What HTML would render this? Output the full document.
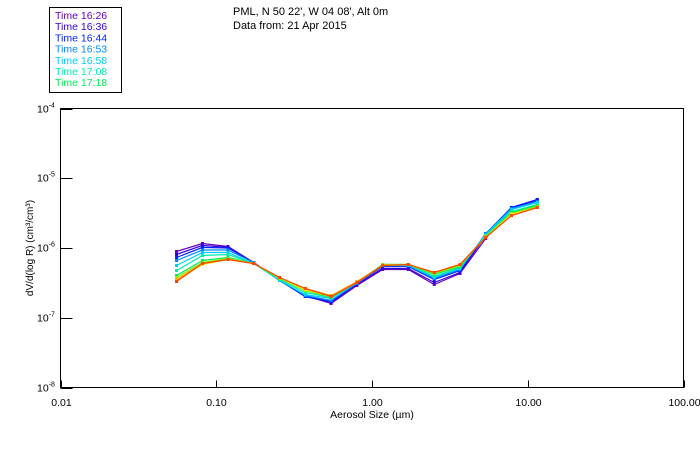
<!DOCTYPE html>
<html><head><meta charset="utf-8"><style>
body{margin:0;background:#fff;}
svg text{font-family:"Liberation Sans",sans-serif;}
</style></head><body>
<svg id="chart" width="700" height="450" xmlns="http://www.w3.org/2000/svg">
<rect x="0" y="0" width="700" height="450" fill="#fff"/>
<g>
<rect x="49.5" y="7.5" width="72" height="85" fill="none" stroke="#000" stroke-width="1"/>
<g id="legendItems"></g>
</g>
<text x="233" y="15" font-size="11">PML, N 50 22', W 04 08', Alt 0m</text>
<text x="233" y="29" font-size="11">Data from: 21 Apr 2015</text>
<g id="axes"></g>
<g id="series"></g>
<text x="372" y="418" font-size="10.5" text-anchor="middle">Aerosol Size (µm)</text>
<text transform="translate(33,248) rotate(-90)" font-size="10" text-anchor="middle">dV/d(log R) (cm³/cm³)</text>
</svg>
<script>
const sizes=[0.0556,0.0815,0.119,0.174,0.255,0.373,0.546,0.80,1.17,1.71,2.51,3.67,5.37,7.86,11.5];
const times=["16:26","16:36","16:44","16:53","16:58","17:08","17:18","17:28","17:38","17:48","17:58"];
const colors=["#6600bb","#3300dd","#0022ff","#0088ff","#00ccff","#00eeaa","#00ee55","#88ee00","#ffee00","#ffaa00","#ff4400"];
const s1=[8.92e-7,1.16e-6,1.05e-6,6.19e-7,3.42e-7,2.08e-7,1.60e-7,2.90e-7,4.92e-7,4.92e-7,3.00e-7,4.31e-7,1.37e-6,3.68e-6,4.80e-6];
const s2=[8.07e-7,1.09e-6,1.02e-6,6.19e-7,3.42e-7,2.02e-7,1.66e-7,3.00e-7,5.08e-7,5.08e-7,3.20e-7,4.45e-7,1.51e-6,3.81e-6,4.95e-6];
const s3=[7.31e-7,1.02e-6,1.00e-6,6.19e-7,3.42e-7,2.02e-7,1.71e-7,3.10e-7,5.43e-7,5.43e-7,3.53e-7,4.75e-7,1.61e-6,3.81e-6,4.95e-6];
const s4=[6.62e-7,9.36e-7,9.36e-7,6.19e-7,3.42e-7,2.08e-7,1.77e-7,3.10e-7,5.61e-7,5.61e-7,3.66e-7,4.92e-7,1.61e-6,3.68e-6,4.64e-6];
const s5=[5.61e-7,8.62e-7,8.62e-7,6.00e-7,3.42e-7,2.15e-7,1.89e-7,3.20e-7,5.61e-7,5.61e-7,3.78e-7,5.08e-7,1.56e-6,3.56e-6,4.49e-6];
const s6=[4.75e-7,7.80e-7,8.07e-7,6.00e-7,3.53e-7,2.30e-7,1.95e-7,3.20e-7,5.80e-7,5.80e-7,3.90e-7,5.25e-7,1.51e-6,3.34e-6,4.20e-6];
const s7=[4.03e-7,6.62e-7,7.31e-7,6.00e-7,3.66e-7,2.46e-7,1.95e-7,3.20e-7,5.80e-7,5.80e-7,4.17e-7,5.43e-7,1.46e-6,3.23e-6,4.07e-6];
const s8=[3.78e-7,6.19e-7,7.07e-7,6.00e-7,3.66e-7,2.46e-7,2.02e-7,3.20e-7,5.80e-7,5.80e-7,4.31e-7,5.61e-7,1.46e-6,3.12e-6,3.94e-6];
const s9=[3.42e-7,5.80e-7,6.84e-7,6.00e-7,3.78e-7,2.54e-7,2.02e-7,3.20e-7,5.61e-7,5.80e-7,4.45e-7,5.80e-7,1.42e-6,3.02e-6,3.81e-6];
const s10=[3.53e-7,6.00e-7,6.84e-7,6.00e-7,3.78e-7,2.63e-7,2.08e-7,3.31e-7,5.61e-7,5.80e-7,4.45e-7,5.80e-7,1.42e-6,2.92e-6,3.81e-6];
const s11=[3.31e-7,6.00e-7,6.84e-7,6.00e-7,3.78e-7,2.63e-7,2.02e-7,3.20e-7,5.61e-7,5.80e-7,4.45e-7,5.80e-7,1.42e-6,2.92e-6,3.81e-6];
const seriesList=[s1,s2,s3,s4,s5,s6,s7,s8,s9,s10,s11];
const xTickVals=[0.01,0.1,1,10,100];
const xTickLabels=["0.01","0.10","1.00","10.00","100.00"];
const yTickExps=[-4,-5,-6,-7,-8];

const NS="http://www.w3.org/2000/svg";
const L=60.5,R=683.5,T=108.5,B=387.5;
function xs(v){return L+(Math.log10(v)+2)/4*(R-L);}
function ys(v){return T+(-4-Math.log10(v))/4*(B-T);}
function mk(tag,attrs,parent){const e=document.createElementNS(NS,tag);for(const k in attrs)e.setAttribute(k,attrs[k]);parent.appendChild(e);return e;}

const axes=document.getElementById('axes');
const frame=mk('rect',{x:L,y:T,width:R-L,height:B-T,fill:'none',stroke:'#000','stroke-width':1},axes);


xTickVals.forEach((v,i)=>{
  const x=Math.round(xs(v))+0.5;
  const t=mk('line',{x1:x,x2:x,y1:B,y2:B-7,stroke:'#000'},axes);
  
  
  const lb=mk('text',{x:x,y:406,'font-size':10.5,'text-anchor':'middle'},axes);
  lb.textContent=xTickLabels[i];
  
  
});
yTickExps.forEach(e=>{
  const y=Math.round(ys(Math.pow(10,e)))+0.5;
  const t=mk('line',{x1:L,x2:L+12,y1:y,y2:y,stroke:'#000'},axes);
  
  
  const lb=mk('text',{x:37,y:y+3,'font-size':10.5},axes);
  lb.textContent='10';
  const sp=mk('tspan',{dy:-5,'font-size':7},lb);
  sp.textContent=String(e);
  
  
});

const sg=document.getElementById('series');
seriesList.forEach((arr,si)=>{
  const g=mk('g',{},sg);
  
  
  const pts=arr.map((v,i)=>xs(sizes[i]).toFixed(1)+','+ys(v).toFixed(1)).join(' ');
  const pl=mk('polyline',{points:pts,fill:'none',stroke:colors[si],'stroke-width':1.2},g);
  
  
  arr.forEach((v,i)=>{
    const r=mk('rect',{x:xs(sizes[i])-1.5,y:ys(v)-1.5,width:3,height:3,fill:colors[si]},g);
    
    
  });
});

const lg=document.getElementById('legendItems');
times.slice(0,7).forEach((t,i)=>{
  const tx=mk('text',{x:55,y:19+i*11.2,'font-size':10.5,fill:colors[i]},lg);
  tx.textContent='Time '+t;
  
  
});
</script>
</body></html>
